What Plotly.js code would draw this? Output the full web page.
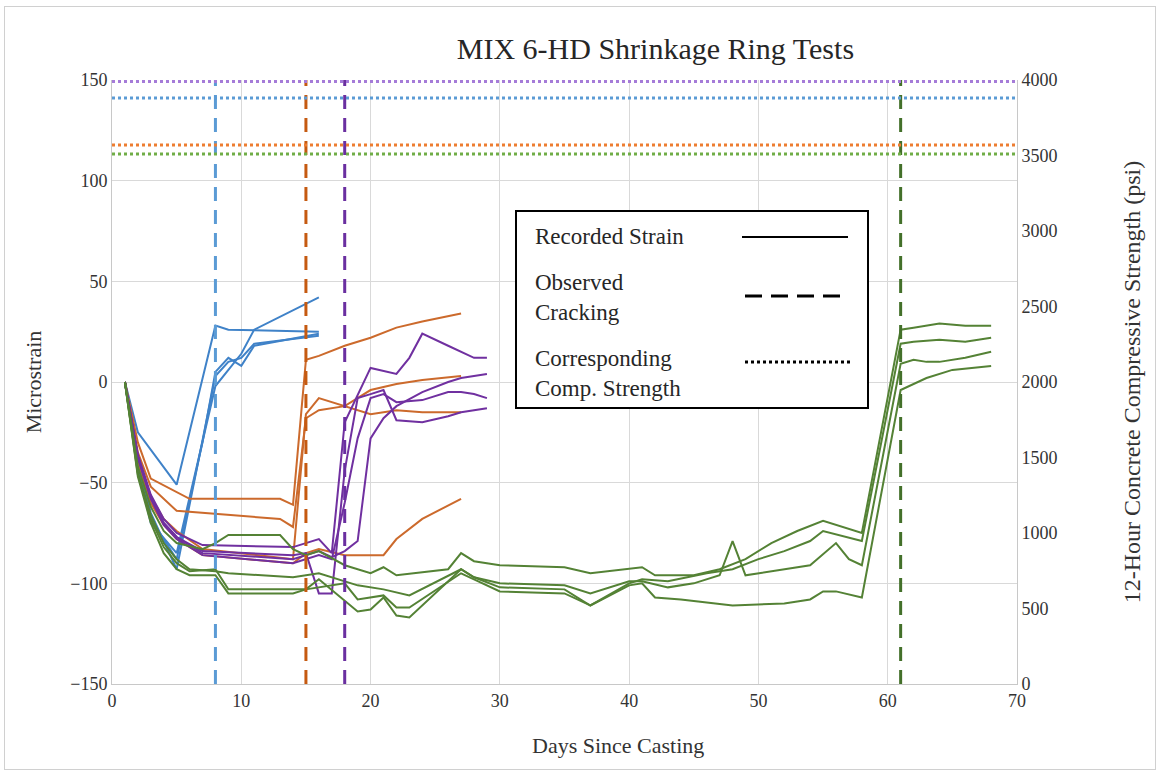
<!DOCTYPE html>
<html>
<head>
<meta charset="utf-8">
<script src="https://cdn.plot.ly/plotly-3.0.1.min.js"></script>
<style>
  html, body { margin: 0; padding: 0; background: #fff; }
  #wrap { position: relative; width: 1160px; height: 775px; }
  #chart { width: 1160px; height: 775px; }
  #frame { position: absolute; left: 4px; top: 6px; width: 1150px; height: 762px;
           border: 1px solid #d0d0d0; pointer-events: none; }
</style>
</head>
<body>
<div id="wrap"><div id="chart"></div><div id="frame"></div></div>
<script>
// ---------------- DATA ----------------
// Blue ring specimens (days since casting, microstrain)
const blueDays = [
  [1, 2, 5, 8, 9, 16],
  [1, 2, 3, 5, 8, 9, 10, 11, 16],
  [1, 2, 3, 5, 7, 8, 9, 10, 11, 16],
  [1, 2, 3, 5, 8, 10, 11, 16]
];
const blueStrain = [
  [0, -25, -51, 28, 26, 25],
  [0, -40, -65, -93, 3, 10, 12, 19, 23],
  [0, -42, -68, -88, -30, 5, 12, 8, 18, 24],
  [0, -43, -70, -85, -2, 14, 26, 42]
];
// Orange ring specimens
const orangeDays = [
  [1, 2, 3, 6, 13, 14, 15, 16, 18, 20, 22, 24, 27],
  [1, 2, 3, 5, 13, 14, 15, 16, 18, 20, 22, 24, 27],
  [1, 2, 3, 4, 5, 7, 14, 15, 16, 18, 20, 22, 24, 27],
  [1, 2, 3, 4, 5, 7, 14, 15, 16, 18, 21, 22, 24, 27]
];
const orangeStrain = [
  [0, -30, -48, -58, -58, -61, 11, 13, 18, 22, 27, 30, 34],
  [0, -35, -52, -64, -68, -72, -18, -14, -12, -4, -1, 1, 3],
  [0, -38, -57, -68, -74, -83, -88, -16, -8, -12, -16, -14, -15, -15],
  [0, -40, -60, -71, -78, -86, -90, -85, -83, -86, -86, -78, -68, -58]
];
// Purple ring specimens
const purpleDays = [
  [1, 2, 3, 4, 5, 7, 14, 15, 16, 17, 18, 20, 22, 23, 24, 26, 28, 29],
  [1, 2, 3, 4, 5, 7, 14, 15, 16, 17, 18, 19, 20, 21, 22, 24, 26, 27, 29],
  [1, 2, 3, 4, 5, 7, 14, 15, 16, 17, 18, 19, 20, 21, 22, 24, 26, 27, 28, 29],
  [1, 2, 3, 4, 5, 7, 14, 15, 16, 17, 18, 19, 20, 21, 22, 24, 26, 27, 29]
];
const purpleStrain = [
  [0, -36, -56, -68, -75, -81, -82, -80, -78, -85, -20, 7, 4, 12, 24, 18, 12, 12],
  [0, -37, -57, -70, -77, -84, -86, -85, -105, -105, -44, -8, -6, -4, -19, -20, -17, -15, -13],
  [0, -38, -58, -71, -78, -86, -90, -88, -86, -88, -60, -28, -8, -6, -10, -9, -5, -5, -6, -8],
  [0, -37, -57, -70, -77, -85, -88, -86, -84, -87, -84, -79, -28, -18, -12, -5, 0, 2, 4]
];
// Green ring specimens
const greenDays = [
  [1, 2, 3, 4, 5, 7, 8, 9, 13, 14, 15, 16, 18, 20, 21, 22, 26, 27, 28, 30, 35, 37, 41, 42, 45, 47, 49, 51, 53, 55, 58, 61, 62, 64, 66, 68],
  [1, 2, 3, 4, 5, 6, 8, 9, 14, 16, 19, 21, 23, 27, 28, 30, 35, 37, 40, 41, 43, 45, 47, 48, 49, 54, 56, 57, 58, 61, 62, 63, 64, 66, 68],
  [1, 2, 3, 4, 5, 6, 8, 9, 14, 15, 16, 19, 20, 21, 22, 23, 27, 28, 30, 35, 37, 40, 41, 42, 44, 48, 52, 54, 55, 56, 58, 61, 63, 65, 68],
  [1, 2, 3, 4, 5, 6, 8, 9, 14, 15, 18, 19, 21, 22, 23, 27, 28, 30, 35, 37, 40, 41, 43, 46, 48, 50, 52, 54, 55, 58, 61, 62, 64, 66, 68]
];
const greenStrain = [
  [0, -42, -62, -74, -80, -83, -80, -76, -76, -83, -86, -84, -91, -95, -92, -96, -93, -85, -89, -91, -92, -95, -92, -96, -96, -93, -88, -80, -74, -69, -75, 26, 27, 29, 28, 28],
  [0, -45, -66, -80, -88, -93, -94, -95, -97, -95, -101, -103, -106, -93, -97, -100, -101, -105, -99, -99, -102, -100, -96, -79, -96, -91, -80, -88, -91, 9, 11, 10, 10, 12, 15],
  [0, -46, -68, -82, -90, -94, -93, -103, -103, -103, -98, -114, -113, -107, -116, -117, -93, -97, -102, -103, -111, -101, -100, -107, -108, -111, -110, -108, -104, -104, -107, -4, 2, 6, 8],
  [0, -47, -70, -85, -93, -96, -96, -105, -105, -103, -100, -108, -106, -112, -112, -95, -98, -104, -105, -111, -100, -98, -99, -95, -93, -88, -84, -79, -74, -79, 19, 20, 21, 20, 22]
];
// Observed cracking day per mix group (blue, orange, purple, green)
const crackDays = [8, 15, 18, 61];
// Corresponding 12-hour compressive strength, psi (blue, orange, purple, green)
const compStrength = [3880, 3570, 3990, 3510];

// ---------------- STYLE ----------------
const strainColors = ['#3F82C8', '#CC6A2C', '#7030A0', '#548235'];
const crackColors  = ['#5B9BD5', '#C55A11', '#6A2FA0', '#43702A'];
const compColors   = ['#5B9BD5', '#ED7D31', '#A57BD8', '#70AD47'];

const groupsDays = [blueDays, orangeDays, purpleDays, greenDays];
const groupsStrain = [blueStrain, orangeStrain, purpleStrain, greenStrain];

const traces = [];
// Dotted horizontal compressive strength lines (secondary axis)
compStrength.forEach((v, i) => {
  traces.push({
    x: [0, 70], y: [v, v], yaxis: 'y2', mode: 'lines', hoverinfo: 'skip',
    line: {color: compColors[i], width: 3, dash: 'dot'}
  });
});
// Strain lines
groupsDays.forEach((g, gi) => {
  g.forEach((days, si) => {
    traces.push({
      x: days, y: groupsStrain[gi][si], mode: 'lines',
      line: {color: strainColors[gi], width: 2}
    });
  });
});
// Dashed vertical cracking lines
crackDays.forEach((d, i) => {
  traces.push({
    x: [d, d], y: [-150, 152], mode: 'lines', hoverinfo: 'skip', cliponaxis: false,
    line: {color: crackColors[i], width: 3, dash: '14px,9px'}
  });
});

// legend geometry helpers (pixel -> paper)
const L = 112, R = 1017, T = 80, B = 684;
const px = v => (v - L) / (R - L);
const py = v => (B - v) / (B - T);

const layout = {
  width: 1160, height: 775,
  margin: {l: 112, r: 143, t: 80, b: 91},
  paper_bgcolor: 'rgba(0,0,0,0)', plot_bgcolor: 'white',
  showlegend: false,
  font: {family: '"Liberation Serif", "Times New Roman", serif', color: '#333333', size: 18},
  title: {
    text: 'MIX 6-HD Shrinkage Ring Tests',
    font: {size: 30, color: '#262626'},
    xref: 'container', x: 0.565, xanchor: 'center',
    yref: 'container', y: 0.938, yanchor: 'middle'
  },
  xaxis: {
    range: [0, 70], dtick: 10, tick0: 0,
    showgrid: true, gridcolor: '#d9d9d9', gridwidth: 1,
    zeroline: false, showline: true, linecolor: '#c8c8c8',
    ticks: '', tickfont: {size: 18}
  },
  yaxis: {
    range: [-150, 150], dtick: 50, tick0: -150,
    showgrid: true, gridcolor: '#d9d9d9', gridwidth: 1,
    zeroline: false, showline: true, linecolor: '#c8c8c8',
    ticks: '', tickfont: {size: 18},
    title: {text: 'Microstrain', font: {size: 22}, standoff: 22}
  },
  yaxis2: {
    overlaying: 'y', side: 'right',
    range: [0, 4000], dtick: 500, tick0: 0,
    showgrid: false, zeroline: false, showline: true, linecolor: '#c8c8c8',
    ticks: '', tickfont: {size: 18},
    title: {text: '12-Hour Concrete Compressive Strength (psi)', font: {size: 24}, standoff: 66}
  },
  shapes: [
    {type: 'rect', xref: 'paper', yref: 'paper', x0: px(516), x1: px(868), y0: py(408), y1: py(211),
     line: {color: '#000000', width: 2}, fillcolor: 'white', layer: 'above'},
    {type: 'line', xref: 'paper', yref: 'paper', x0: px(742), x1: px(848), y0: py(237), y1: py(237),
     line: {color: '#000000', width: 2}},
    {type: 'line', xref: 'paper', yref: 'paper', x0: px(745), x1: px(842), y0: py(296), y1: py(296),
     line: {color: '#000000', width: 3, dash: '17px,9px'}},
    {type: 'line', xref: 'paper', yref: 'paper', x0: px(745), x1: px(850), y0: py(362), y1: py(362),
     line: {color: '#000000', width: 3, dash: 'dot'}}
  ],
  annotations: [
    {text: 'Recorded Strain', xref: 'paper', yref: 'paper', x: px(533), y: py(236),
     xanchor: 'left', yanchor: 'middle', showarrow: false, align: 'left',
     font: {size: 23, color: '#262626'}},
    {text: 'Observed<br>Cracking', xref: 'paper', yref: 'paper', x: px(533), y: py(297),
     xanchor: 'left', yanchor: 'middle', showarrow: false, align: 'left',
     font: {size: 23, color: '#262626'}},
    {text: 'Corresponding<br>Comp. Strength', xref: 'paper', yref: 'paper', x: px(533), y: py(373),
     xanchor: 'left', yanchor: 'middle', showarrow: false, align: 'left',
     font: {size: 23, color: '#262626'}},
    {text: 'Days Since Casting', xref: 'paper', yref: 'paper', x: px(618), y: py(745),
     xanchor: 'center', yanchor: 'middle', showarrow: false,
     font: {size: 22, color: '#333333'}}
  ]
};

Plotly.newPlot('chart', traces, layout, {displayModeBar: false, staticPlot: true});
</script>
</body>
</html>
